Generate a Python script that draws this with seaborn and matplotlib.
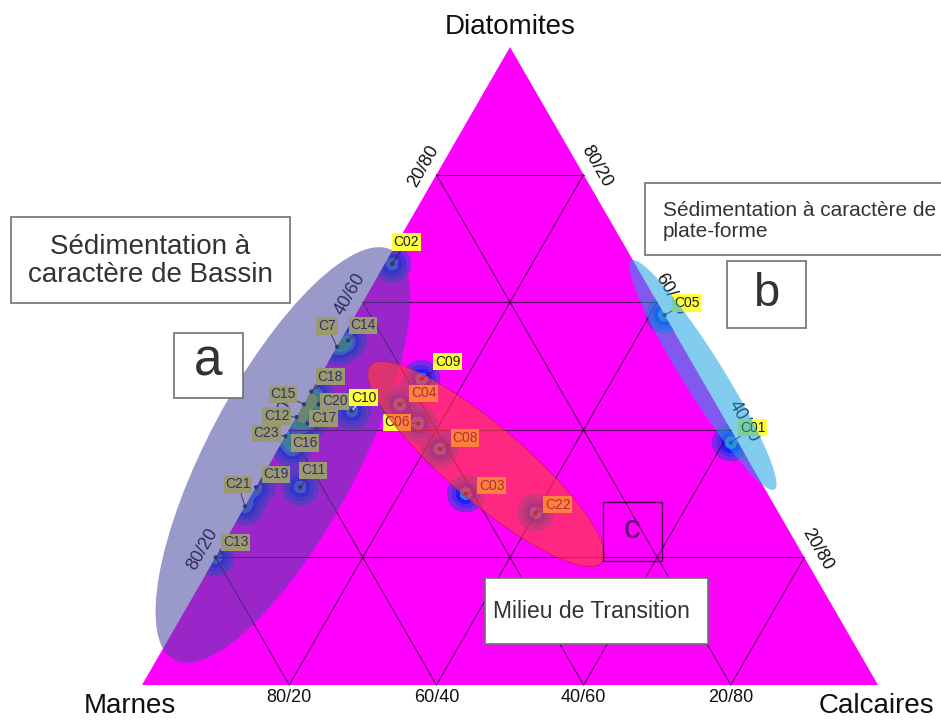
import numpy as np
import matplotlib
matplotlib.use("Agg")
import matplotlib.pyplot as plt
import seaborn as sns
from matplotlib.patches import Polygon, Ellipse, Rectangle

# Sample compositions (%): Marnes / Calcaires / Diatomites
samples = ["C02", "C14", "C7", "C18", "C15", "C20", "C12", "C17", "C23", "C16",
           "C19", "C21", "C13", "C11", "C10",
           "C09", "C04", "C06", "C08", "C03", "C22",
           "C05", "C01"]
marnes = [33, 45, 47, 54, 56, 54, 58, 57, 61, 61, 69, 72, 80, 63, 50,
          38, 43, 42, 41, 41, 33,
          0, 1]
calcaires = [1, 1, 0, 0, 0, 2, 0, 2, 0, 2, 0, 0, 0, 6, 7,
             14, 13, 17, 22, 29, 40,
             42, 61]
diatomites = [66, 54, 53, 46, 44, 44, 42, 41, 39, 37, 31, 28, 20, 31, 43,
              48, 44, 41, 37, 30, 27,
              58, 38]

grid_levels = [20, 40, 60, 80]
bottom_ticks = ["80/20", "60/40", "40/60", "20/80"]   # Marnes/Calcaires
left_ticks = ["80/20", "60/40", "40/60", "20/80"]     # Marnes/Diatomites
right_ticks = ["20/80", "40/60", "60/40", "80/20"]    # Diatomites/Calcaires

# Label placement (pixels, image orientation: +x right, +y down)
label_offsets = {
    "C02": (14, -22), "C14": (15, -15), "C7": (-10, -21), "C18": (19, -15),
    "C15": (-21, -10), "C20": (16, -3), "C12": (-20, -1), "C17": (16, -5),
    "C23": (-19, -3), "C16": (12, -6), "C19": (20, -13), "C21": (-7, -22),
    "C13": (20, -15), "C11": (13, -17), "C10": (12, -13),
    "C09": (26, -17), "C04": (24, -11), "C06": (-21, -1), "C08": (25, -11),
    "C03": (26, -8), "C22": (22, -8), "C05": (22, -12), "C01": (22, -15),
}

W, H = 941, 720
sns.set_theme(style="white")
plt.rcParams["font.family"] = ["Liberation Sans", "DejaVu Sans"]

fig = plt.figure(figsize=(W / 100, H / 100), dpi=100)
ax = fig.add_axes([0, 0, 1, 1])
ax.set_xlim(0, W)
ax.set_ylim(H, 0)
ax.axis("off")

# Triangle corners: Marnes (left), Calcaires (right), Diatomites (top)
PM = np.array([142.0, 685.0])
PC = np.array([878.0, 685.0])
PD = np.array([510.0, 47.0])


def to_xy(m, c, d):
    m, c, d = (np.asarray(v, float) for v in (m, c, d))
    s = m + c + d
    return (m * PM[0] + c * PC[0] + d * PD[0]) / s, (m * PM[1] + c * PC[1] + d * PD[1]) / s


tri = Polygon([PM, PC, PD], closed=True, fc="#ff00ff", ec="none", zorder=1)
ax.add_patch(tri)

# Ternary grid
for t in grid_levels:
    u = 100 - t
    for p, q in [((u, 0, t), (0, u, t)), ((u, t, 0), (0, t, u)), ((t, u, 0), (t, 0, u))]:
        x0, y0 = to_xy(*p)
        x1, y1 = to_xy(*q)
        ax.plot([x0, x1], [y0, y1], color="#5a005a", lw=0.8, zorder=4)

# Point density (isotropic gaussian kernels)
px, py = to_xy(marnes, calcaires, diatomites)
gx = np.arange(120, 900, 1.0)
gy = np.arange(30, 700, 1.0)
GX, GY = np.meshgrid(gx, gy)
Z = np.zeros_like(GX)
sig = 8.5
for x0, y0 in zip(px, py):
    Z += np.exp(-((GX - x0) ** 2 + (GY - y0) ** 2) / (2 * sig ** 2))
dens_colors = ["#8426e6", "#4d2cf2", "#1d1dff", "#3a78e2", "#2cb7c9",
               "#3cc25a", "#98d232", "#e4e232"]
dens_levels = [0.1, 0.28, 0.52, 0.8, 1.1, 1.35, 1.65, 2.0, 20]
cs = ax.contourf(GX, GY, Z, levels=dens_levels, colors=dens_colors, zorder=3)
cs.set_clip_path(tri)

sns.scatterplot(x=px, y=py, s=9, color="#1c1c44", edgecolor="none",
                ax=ax, legend=False, zorder=5)

# Sample labels
for name, x, y in zip(samples, px, py):
    dx, dy = label_offsets[name]
    top = name in ("C02", "C10")
    ax.annotate(name, xy=(x, y), xytext=(dx, -dy), textcoords="offset pixels",
                fontsize=10, ha="center", va="center", color="#1a1a1a",
                bbox=dict(boxstyle="square,pad=0.12", fc="#ffff3c", ec="none"),
                arrowprops=dict(arrowstyle="-", color="white" if name == "C10" else "#6a1010",
                                lw=0.7, shrinkA=0, shrinkB=1),
                zorder=9 if top else 6)

# Axis tick labels
for t, lab in zip(grid_levels, bottom_ticks):
    x, y = to_xy(100 - t, t, 0)
    ax.text(x, y + 12, lab, fontsize=13, ha="center", va="center", color="#111111", zorder=5)
for t, lab in zip(grid_levels, left_ticks):
    x, y = to_xy(100 - t, 0, t)
    ax.text(x - 13, y - 8, lab, fontsize=13, ha="center", va="center", rotation=60,
            color="#111111", zorder=5)
for t, lab in zip(grid_levels, right_ticks):
    x, y = to_xy(0, 100 - t, t)
    ax.text(x + 13, y - 8, lab, fontsize=13, ha="center", va="center", rotation=-60,
            color="#111111", zorder=5)

ax.text(PD[0], PD[1] - 20, "Diatomites", fontsize=20, ha="center", va="center", color="#111111")
ax.text(PM[0] - 12, PM[1] + 21, "Marnes", fontsize=20, ha="center", va="center", color="#111111")
ax.text(PC[0] - 2, PC[1] + 21, "Calcaires", fontsize=20, ha="center", va="center", color="#111111")

# Facies ellipses
ax.add_patch(Ellipse((283, 455), 464, 150, angle=-62, fc=(71 / 255, 71 / 255, 160 / 255),
                     alpha=0.55, ec="none", zorder=7))
ax.add_patch(Ellipse((703, 375), 270, 40, angle=58, fc=(27 / 255, 164 / 255, 227 / 255),
                     alpha=0.55, ec="none", zorder=7))
ax.add_patch(Ellipse((486, 464), 304, 76, angle=40.4, fc=(1.0, 61 / 255, 64 / 255),
                     alpha=0.65, ec="#a02050", lw=0.6, zorder=7))

# Annotation boxes
box_kw = dict(fc="white", ec="#707070", lw=1.2, zorder=8)
ax.add_patch(Rectangle((11, 217), 279, 86, **box_kw))
ax.text(150, 261, "Sédimentation à\ncaractère de Bassin", fontsize=20, ha="center", va="center",
        linespacing=1.15, color="#333333", zorder=9)
ax.add_patch(Rectangle((174, 333), 69, 65, **box_kw))
ax.text(208, 362, "a", fontsize=37, ha="center", va="center", color="#333333", zorder=9)
ax.add_patch(Rectangle((645, 183), 320, 72, clip_on=True, **box_kw))
ax.text(663, 221, "Sédimentation à caractère de\nplate-forme", fontsize=15, ha="left",
        va="center", linespacing=1.1, color="#333333", zorder=9)
ax.add_patch(Rectangle((727, 261), 79, 67, **box_kw))
ax.text(766, 294, "b", fontsize=34, ha="center", va="center", color="#333333", zorder=9)
ax.add_patch(Rectangle((603, 502), 59, 59, fc="none", ec="#4a0050", lw=1.0, zorder=8))
ax.text(632, 530, "c", fontsize=24, ha="center", va="center", color="#5a0a6a", zorder=9)
ax.add_patch(Rectangle((485, 578), 223, 66, **box_kw))
ax.text(493, 612, "Milieu de Transition", fontsize=16.5, ha="left", va="center",
        color="#333333", zorder=9)

fig.savefig("out.png", dpi=100)
